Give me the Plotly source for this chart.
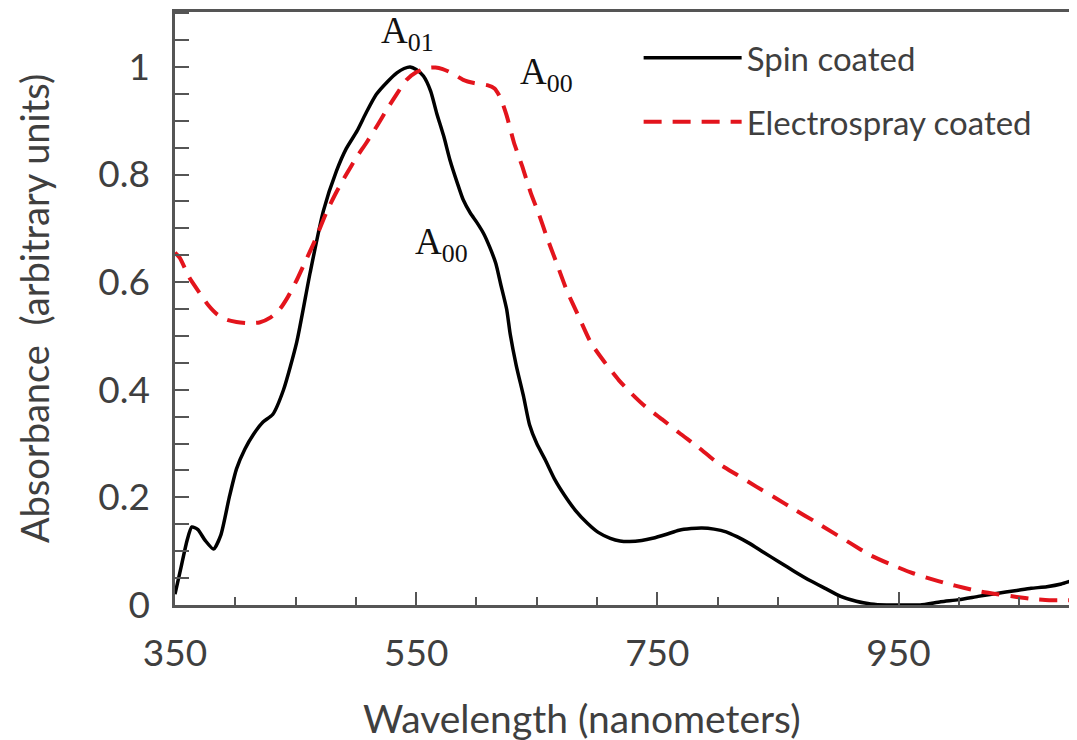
import plotly.graph_objects as go

# Spin coated (black solid)
spin_x = [350, 355, 360, 364, 369, 375, 382, 388, 395, 401, 408, 415, 423, 431, 440, 451,
          462, 473, 484, 492, 501, 509, 517, 526, 534, 540, 545, 550, 556, 562, 567, 573,
          578, 584, 589, 595, 600, 606, 611, 616, 620, 625, 628, 633, 639, 644, 650, 657,
          665, 673, 682, 692, 701, 711, 719, 727, 737, 746, 757, 768, 778, 787, 797, 807,
          816, 826, 838, 851, 864, 877, 890, 902, 915, 927, 940, 953, 968, 985, 1000, 1016,
          1030, 1048, 1060, 1073, 1085, 1095, 1098]
spin_y = [0.02, 0.07, 0.12, 0.145, 0.14, 0.12, 0.104, 0.13, 0.2, 0.253, 0.29, 0.317, 0.34,
          0.354, 0.40, 0.489, 0.617, 0.732, 0.807, 0.848, 0.881, 0.917, 0.949, 0.972, 0.989,
          0.997, 1.0, 0.995, 0.983, 0.955, 0.914, 0.87, 0.827, 0.785, 0.753, 0.728, 0.712,
          0.69, 0.665, 0.635, 0.597, 0.55, 0.503, 0.445, 0.388, 0.335, 0.30, 0.27, 0.233,
          0.204, 0.176, 0.152, 0.135, 0.124, 0.119, 0.118, 0.12, 0.124, 0.131, 0.139, 0.142,
          0.143, 0.141, 0.136, 0.127, 0.115, 0.098, 0.08, 0.062, 0.045, 0.03, 0.016, 0.007,
          0.002, 0.0, 0.0, 0.0, 0.006, 0.01, 0.016, 0.021, 0.027, 0.031, 0.034, 0.039, 0.046,
          0.047]

# Electrospray coated (red dashed)
spray_x = [350, 354, 362, 371, 378, 385, 393, 401, 410, 420, 429, 437, 444, 451, 458, 465,
           476, 484, 492, 500, 509, 518, 526, 534, 542, 550, 559, 566, 572, 580, 589, 598,
           609, 615, 620, 625, 631, 638, 645, 652, 658, 666, 675, 685, 695, 706, 718, 729,
           740, 754, 768, 784, 800, 816, 832, 848, 864, 880, 896, 910, 927, 944, 962, 976,
           990, 1004, 1018, 1032, 1048, 1062, 1075, 1087, 1098]
spray_y = [0.655, 0.645, 0.608, 0.578, 0.556, 0.54, 0.53, 0.526, 0.524, 0.525, 0.534, 0.55,
           0.574, 0.604, 0.638, 0.672, 0.732, 0.768, 0.80, 0.83, 0.86, 0.892, 0.922, 0.95,
           0.976, 0.99, 0.998, 0.999, 0.996, 0.988, 0.976, 0.97, 0.966, 0.96, 0.942, 0.91,
           0.86, 0.815, 0.766, 0.725, 0.686, 0.638, 0.584, 0.535, 0.487, 0.452, 0.418, 0.392,
           0.369, 0.345, 0.32, 0.293, 0.264, 0.242, 0.22, 0.199, 0.177, 0.156, 0.134, 0.115,
           0.092, 0.075, 0.059, 0.049, 0.04, 0.032, 0.025, 0.02, 0.015, 0.011, 0.009, 0.009,
           0.009]

x_tickvals = [350, 550, 750, 950]
y_tickvals = [0, 0.2, 0.4, 0.6, 0.8, 1]
y_ticktext = ["0", "0.2", "0.4", "0.6", "0.8", "1"]

FONT = "Lato"
TXT = "#3f3f3f"
AX = "#555555"

fig = go.Figure()
fig.add_trace(go.Scatter(
    x=spin_x, y=spin_y, mode="lines", name="Spin coated", legendgroup="a",
    line=dict(color="black", width=3.5, shape="spline", smoothing=0.6)))
fig.add_trace(go.Scatter(
    x=spray_x, y=spray_y, mode="lines", name="Electrospray coated", legendgroup="b",
    line=dict(color="#e3141c", width=4, dash="18px,11px", shape="spline", smoothing=0.6)))

ann_font = dict(family="Liberation Serif", size=37, color="#111111")
fig.add_annotation(x=543, y=1.062, xref="x", yref="y", text="A<sub>01</sub>",
                   showarrow=False, font=ann_font)
fig.add_annotation(x=658, y=0.985, xref="x", yref="y", text="A<sub>00</sub>",
                   showarrow=False, font=ann_font)
fig.add_annotation(x=571, y=0.67, xref="x", yref="y", text="A<sub>00</sub>",
                   showarrow=False, font=ann_font)
# x-axis title (placed as in the reference, left of the plot centre)
fig.add_annotation(x=0.451, y=-0.19, xref="paper", yref="paper",
                   text="Wavelength (nanometers)", showarrow=False,
                   xanchor="center", yanchor="middle",
                   font=dict(family=FONT, size=39, color=TXT))

# the page body adds an 8px offset; the figure is sized so the plot lands in place
fig.update_layout(
    width=1069, height=732,
    margin=dict(l=167, r=0, t=4, b=135),
    paper_bgcolor="white", plot_bgcolor="white",
    font=dict(family=FONT, color=TXT),
    showlegend=True,
    legend=dict(x=0.514, y=0.97, xanchor="left", yanchor="top",
                font=dict(family=FONT, size=33, color=TXT),
                bgcolor="rgba(0,0,0,0)", itemwidth=98, tracegroupgap=18,
                traceorder="grouped"),
    xaxis=dict(range=[350, 1098], tickvals=x_tickvals, ticks="inside", ticklen=13,
               tickwidth=1.5, tickcolor=AX, showline=True, linecolor=AX, linewidth=2.5,
               mirror=True, showgrid=False, zeroline=False, automargin=False,
               tickfont=dict(family=FONT, size=37, color=TXT), ticklabelstandoff=14,
               minor=dict(tick0=350, dtick=50, ticks="inside", ticklen=8,
                          tickwidth=1.5, tickcolor=AX, showgrid=False)),
    yaxis=dict(range=[0, 1.102], tickvals=y_tickvals, ticktext=y_ticktext,
               ticks="inside", ticklen=14, tickwidth=1.5, tickcolor=AX,
               showline=True, linecolor=AX, linewidth=2.5, showgrid=False, zeroline=False,
               automargin=False,
               tickfont=dict(family=FONT, size=37, color=TXT), ticklabelstandoff=15,
               minor=dict(tick0=0, dtick=0.05, ticks="inside", ticklen=14,
                          tickwidth=1.5, tickcolor=AX, showgrid=False),
               title=dict(text="Absorbance  (arbitrary units)", standoff=37,
                          font=dict(family=FONT, size=38, color=TXT))),
)

fig.write_html("out.html")
